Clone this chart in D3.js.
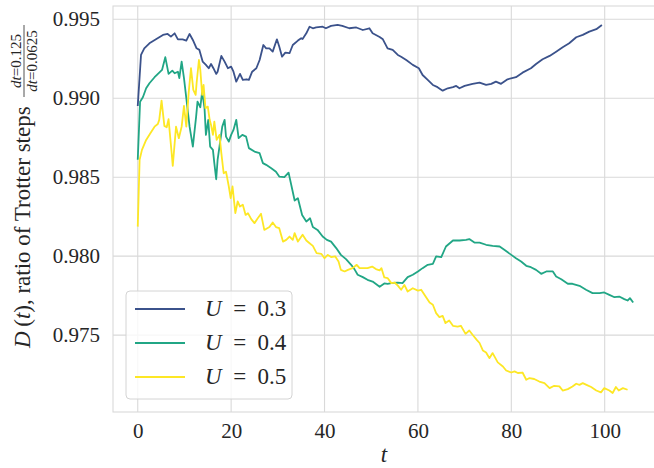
<!DOCTYPE html>
<html>
<head>
<meta charset="utf-8">
<script src="https://cdn.jsdelivr.net/npm/d3@7"></script>
<style>
  html, body { margin: 0; padding: 0; background: #fff; }
  svg { display: block; }
  text { font-family: "Liberation Serif", "DejaVu Serif", serif; fill: #262626; }
</style>
</head>
<body>
<svg id="chart" width="654" height="468"></svg>
<script>
// ---- data (t, D(t)) ----
const seriesNames = ["0.3", "0.4", "0.5"];
const seriesColors = ["#3b528b", "#21a685", "#fde725"];
const xTicks = [0, 20, 40, 60, 80, 100];
const yTicks = [0.975, 0.980, 0.985, 0.990, 0.995];

const dataU03 = [
[0,0.98951],[0.7,0.99274],[1.4,0.99316],[2.5,0.99348],[3.9,0.99373],[5.4,0.99401],[6.4,0.99407],[7.1,0.9939],
[7.9,0.99411],[8.6,0.99373],[9.6,0.99373],[10.4,0.99365],[11.1,0.99407],[11.8,0.99369],[12.6,0.99316],[13.2,0.99306],
[13.9,0.99232],[14.6,0.99211],[15.2,0.9919],[15.7,0.99217],[16.2,0.9919],[16.8,0.99154],[17.1,0.99168],[17.9,0.99268],
[18.6,0.99232],[19.3,0.9919],[20,0.992],[20.5,0.99168],[21.1,0.99105],[21.9,0.99154],[22.5,0.99116],[23.3,0.9912],
[23.8,0.99116],[24.5,0.99168],[25.4,0.9919],[26.1,0.99242],[26.9,0.99337],[27.5,0.99316],[28.2,0.99316],[28.9,0.99295],
[29.8,0.99373],[30.3,0.99327],[30.9,0.99263],[31.6,0.99289],[32.5,0.99285],[33.2,0.99337],[34.3,0.99365],[35,0.9938],
[35.3,0.99375],[36.1,0.99411],[36.8,0.99453],[37.5,0.99443],[38.2,0.99448],[39.6,0.99453],[40.3,0.99443],[41.4,0.99458],
[42.8,0.99464],[43.8,0.99458],[45.3,0.99443],[46.8,0.99448],[48.2,0.99432],[49.6,0.99443],[50.3,0.99411],[51.8,0.99388],
[52.5,0.99373],[53.5,0.99316],[54.6,0.99306],[55.7,0.99274],[56.4,0.99263],[57.5,0.99242],[58.9,0.99211],[60.2,0.9919],
[61,0.99147],[62.1,0.99116],[63.2,0.99084],[64.2,0.9907],[65.3,0.99048],[66.4,0.99063],[67.5,0.9907],[68.2,0.99078],
[68.9,0.99063],[70,0.99078],[71.7,0.99091],[73.2,0.99099],[74.6,0.99084],[75.7,0.99091],[76.7,0.99105],[77.8,0.99091],
[79.2,0.9912],[81,0.99133],[82.4,0.99162],[84.2,0.9919],[85.3,0.99217],[86.7,0.99247],[88.2,0.99268],[89.6,0.99295],
[91,0.99323],[92.4,0.99348],[93.9,0.99386],[95.3,0.99401],[96.7,0.99422],[98.2,0.99437],[99.4,0.99464]
];

const dataU04 = [
[0,0.9861],[0.5,0.98978],[1.1,0.99006],[1.8,0.99063],[2.5,0.99095],[3.6,0.99133],[4.6,0.99162],[5.2,0.99179],
[5.9,0.9926],[6.6,0.99154],[7.4,0.99175],[7.9,0.99158],[8.6,0.99168],[8.9,0.99127],[9.4,0.99232],[9.9,0.99127],
[10.4,0.9900],[11.1,0.9882],[11.8,0.98694],[12.5,0.98884],[12.8,0.98978],[13.4,0.98943],[13.8,0.99042],[14.3,0.98937],
[14.6,0.98768],[15.1,0.98863],[15.5,0.98694],[16.1,0.98673],[16.4,0.98589],[16.8,0.98487],[17.1,0.98609],[17.5,0.98694],
[18.1,0.9882],[18.6,0.98863],[18.9,0.98757],[19.5,0.98725],[20,0.98768],[20.5,0.98799],[21.1,0.98863],[21.6,0.98747],
[22.4,0.98768],[23.2,0.98757],[23.8,0.98684],[25,0.98662],[26.1,0.98652],[26.8,0.98589],[27.5,0.98578],[28.6,0.98557],
[29.6,0.98535],[30.3,0.98504],[31.4,0.985],[32.3,0.98529],[33.1,0.9842],[33.6,0.98352],[34.3,0.98367],[35.2,0.98261],
[36.1,0.98219],[36.9,0.9824],[37.5,0.98184],[38.5,0.98166],[39.6,0.98124],[40.5,0.98103],[41.4,0.98092],[42.5,0.98051],
[43.5,0.98008],[44.6,0.97981],[45.7,0.97945],[46.4,0.97918],[47.1,0.97882],[48.2,0.97867],[49.2,0.9785],[50.3,0.97839],
[51.8,0.97806],[52.8,0.97827],[53.5,0.97825],[54.6,0.97831],[55.7,0.97832],[56.7,0.97829],[57.8,0.97867],[58.9,0.97882],
[60,0.97903],[61,0.97924],[62.1,0.97945],[63.2,0.97951],[63.9,0.97998],[65,0.97994],[66,0.98061],[67.5,0.98099],
[68.9,0.98099],[70.3,0.98103],[71,0.98108],[72.1,0.98086],[73.2,0.98086],[74.6,0.98072],[76,0.98065],[77.5,0.98061],
[78.5,0.9804],[80,0.98008],[81,0.97987],[82.1,0.97966],[83.2,0.97939],[84.2,0.9793],[85.3,0.97913],[86.4,0.97888],
[87.5,0.97903],[88.9,0.97903],[89.6,0.97871],[90.7,0.97854],[92.1,0.97825],[93.1,0.97825],[94.6,0.97812],[96,0.97787],
[97.4,0.97766],[98.9,0.97766],[99.9,0.9777],[101,0.97755],[102.1,0.9774],[103.1,0.97744],[104.2,0.97728],[104.9,0.97719],
[105.4,0.97734],[106.1,0.97706]
];

const dataU05 = [
[0,0.98187],[0.4,0.9861],[0.9,0.98673],[1.8,0.98736],[2.7,0.98778],[3.6,0.9882],[4.3,0.98837],[4.6,0.98863],
[5.1,0.98985],[5.7,0.98825],[6.2,0.98816],[6.6,0.98867],[7.2,0.98673],[7.5,0.98571],[8.2,0.9882],[8.8,0.98747],
[9.4,0.9882],[9.9,0.98951],[10.4,0.9882],[10.9,0.99032],[11.4,0.9919],[11.9,0.99053],[12.4,0.99021],[12.6,0.99095],
[13.1,0.99242],[13.4,0.99179],[13.8,0.99021],[14.1,0.99084],[14.5,0.98937],[15,0.98947],[15.4,0.98863],[15.7,0.98831],
[16.1,0.98768],[16.4,0.98852],[16.9,0.98736],[17.5,0.98768],[17.9,0.98652],[18.4,0.98525],[18.9,0.98535],[19.5,0.98441],
[19.9,0.98367],[20.3,0.98441],[20.9,0.98272],[21.4,0.98346],[21.9,0.98314],[22.5,0.98325],[23.1,0.98261],[23.6,0.98272],
[24.3,0.98234],[25,0.98209],[25.7,0.9824],[26.4,0.98268],[27.1,0.98166],[28.2,0.98184],[28.9,0.98213],[29.6,0.98184],
[30.3,0.98177],[31.1,0.98092],[31.8,0.98103],[32.5,0.98124],[33.2,0.98103],[33.6,0.98146],[34.3,0.98092],[35.3,0.98135],
[36.1,0.98099],[36.8,0.98082],[37.5,0.98065],[38.3,0.98019],[39.3,0.98015],[40,0.97987],[40.7,0.98008],[41.4,0.97994],
[42.3,0.97998],[43,0.97966],[43.5,0.97913],[44.3,0.97903],[45,0.97913],[46,0.97924],[46.9,0.97945],[47.5,0.97924],
[48.2,0.97924],[49.2,0.97924],[50.2,0.97934],[51,0.97918],[51.8,0.9791],[52.2,0.97924],[52.8,0.97865],[53.5,0.97861],
[54.3,0.97829],[55,0.97833],[55.7,0.97813],[56.4,0.97787],[57.1,0.97818],[57.8,0.97776],[58.9,0.97797],[60,0.97782],
[60.7,0.97787],[61.4,0.97755],[62.5,0.97706],[63.2,0.97692],[63.9,0.97639],[64.6,0.97614],[65.3,0.97622],[65.9,0.97576],
[66.7,0.97592],[67.5,0.97559],[68.5,0.97554],[69.2,0.97559],[70.2,0.97508],[71,0.97529],[71.7,0.97502],[72.6,0.9747],
[73.2,0.9745],[73.9,0.97403],[74.6,0.9739],[75.3,0.97354],[76,0.97386],[77.1,0.97327],[78.2,0.97301],[78.9,0.97276],
[80,0.97263],[80.7,0.9727],[81.4,0.9726],[82.4,0.97263],[83.2,0.97217],[83.9,0.97228],[84.9,0.97222],[86,0.97206],
[87.1,0.97196],[88.2,0.97164],[89.2,0.97179],[90.3,0.97175],[91,0.97149],[92.1,0.97158],[93.1,0.97175],[93.9,0.97192],
[94.6,0.97185],[95.3,0.97196],[96.1,0.97185],[97.1,0.97171],[98.2,0.97149],[99.2,0.97137],[99.9,0.97164],[101,0.97149],
[101.7,0.97133],[102.4,0.97171],[103,0.97149],[103.9,0.97164],[104.9,0.97154]
];

const allSeries = [dataU03, dataU04, dataU05];

// ---- layout ----
const svg = d3.select("#chart");
const plot = { left: 113, top: 6, right: 657, bottom: 412 };

const x = d3.scaleLinear().domain([-5.3, 111.2]).range([plot.left, plot.right]);
const y = d3.scaleLinear().domain([0.97013, 0.99584]).range([plot.bottom, plot.top]);

const gridColor = "#d9d9d9";
const FS = 21;

svg.append("defs").append("clipPath").attr("id", "clip")
  .append("rect").attr("x", plot.left).attr("y", plot.top)
  .attr("width", plot.right - plot.left).attr("height", plot.bottom - plot.top);

// grid
const grid = svg.append("g");
grid.selectAll(".gx").data(xTicks).join("line")
  .attr("x1", d => x(d)).attr("x2", d => x(d))
  .attr("y1", plot.top).attr("y2", plot.bottom)
  .attr("stroke", gridColor).attr("stroke-width", 1.1);
grid.selectAll(".gy").data(yTicks).join("line")
  .attr("x1", plot.left).attr("x2", plot.right)
  .attr("y1", d => y(d)).attr("y2", d => y(d))
  .attr("stroke", gridColor).attr("stroke-width", 1.1);

// frame
svg.append("rect").attr("x", plot.left).attr("y", plot.top)
  .attr("width", plot.right - plot.left).attr("height", plot.bottom - plot.top)
  .attr("fill", "none").attr("stroke", gridColor).attr("stroke-width", 1.1);

// axes (tick labels only)
const xAxis = d3.axisBottom(x).tickValues(xTicks).tickSize(0).tickPadding(11).tickFormat(d3.format("d"));
const gx = svg.append("g").attr("transform", `translate(0,${plot.bottom})`).call(xAxis);
gx.select(".domain").remove();
gx.selectAll("text").attr("font-size", FS).attr("font-family", "Liberation Serif").attr("fill", "#262626");

const yAxis = d3.axisLeft(y).tickValues(yTicks).tickSize(0).tickPadding(13).tickFormat(d3.format(".3f"));
const gy = svg.append("g").attr("transform", `translate(${plot.left},0)`).call(yAxis);
gy.select(".domain").remove();
gy.selectAll("text").attr("font-size", FS).attr("font-family", "Liberation Serif").attr("fill", "#262626");

// lines
const line = d3.line().x(d => x(d[0])).y(d => y(d[1]));
const lines = svg.append("g").attr("clip-path", "url(#clip)");
allSeries.forEach((s, i) => {
  lines.append("path").datum(s)
    .attr("d", line)
    .attr("fill", "none")
    .attr("stroke", seriesColors[i])
    .attr("stroke-width", 1.8)
    .attr("stroke-linejoin", "round");
});

// x label
svg.append("text").attr("x", (plot.left + plot.right) / 2 - 1).attr("y", 462)
  .attr("text-anchor", "middle").attr("font-size", 23).attr("font-style", "italic").text("t");

// y label
const yl = svg.append("g").attr("transform", "translate(30,190) rotate(-90)");
const ylt = yl.append("text").attr("x", -158).attr("y", 0).attr("font-size", 23);
ylt.append("tspan").attr("font-style", "italic").text("D");
ylt.append("tspan").text("\u2009(");
ylt.append("tspan").attr("font-style", "italic").text("t");
ylt.append("tspan").text("), ratio of Trotter steps");
// fraction
const fr = yl.append("g").attr("transform", "translate(129,0)");
fr.append("line").attr("x1", -36).attr("x2", 36).attr("y1", -6).attr("y2", -6)
  .attr("stroke", "#262626").attr("stroke-width", 0.8);
const num = fr.append("text").attr("x", 0).attr("y", -9).attr("text-anchor", "middle").attr("font-size", 15);
num.append("tspan").attr("font-style", "italic").text("dt");
num.append("tspan").text("=0.125");
const den = fr.append("text").attr("x", 0).attr("y", 7).attr("text-anchor", "middle").attr("font-size", 15);
den.append("tspan").attr("font-style", "italic").text("dt");
den.append("tspan").text("=0.0625");

// legend
const lg = svg.append("g");
lg.append("rect").attr("x", 126).attr("y", 291).attr("width", 166).attr("height", 108)
  .attr("rx", 4).attr("fill", "white").attr("fill-opacity", 0.8)
  .attr("stroke", "#d4d4d4").attr("stroke-width", 1);
const legendY = d3.scalePoint().domain(seriesNames).range([309, 377]);
seriesNames.forEach((n, i) => {
  const yy = legendY(n);
  lg.append("line").attr("x1", 135).attr("x2", 185).attr("y1", yy).attr("y2", yy)
    .attr("stroke", seriesColors[i]).attr("stroke-width", 1.8);
  const t = lg.append("text").attr("x", 205).attr("y", yy + 7).attr("font-size", FS + 2);
  t.append("tspan").attr("font-style", "italic").text("U");
  t.append("tspan").text("\u2002=\u20020." + n.slice(2));
});
</script>
</body>
</html>
